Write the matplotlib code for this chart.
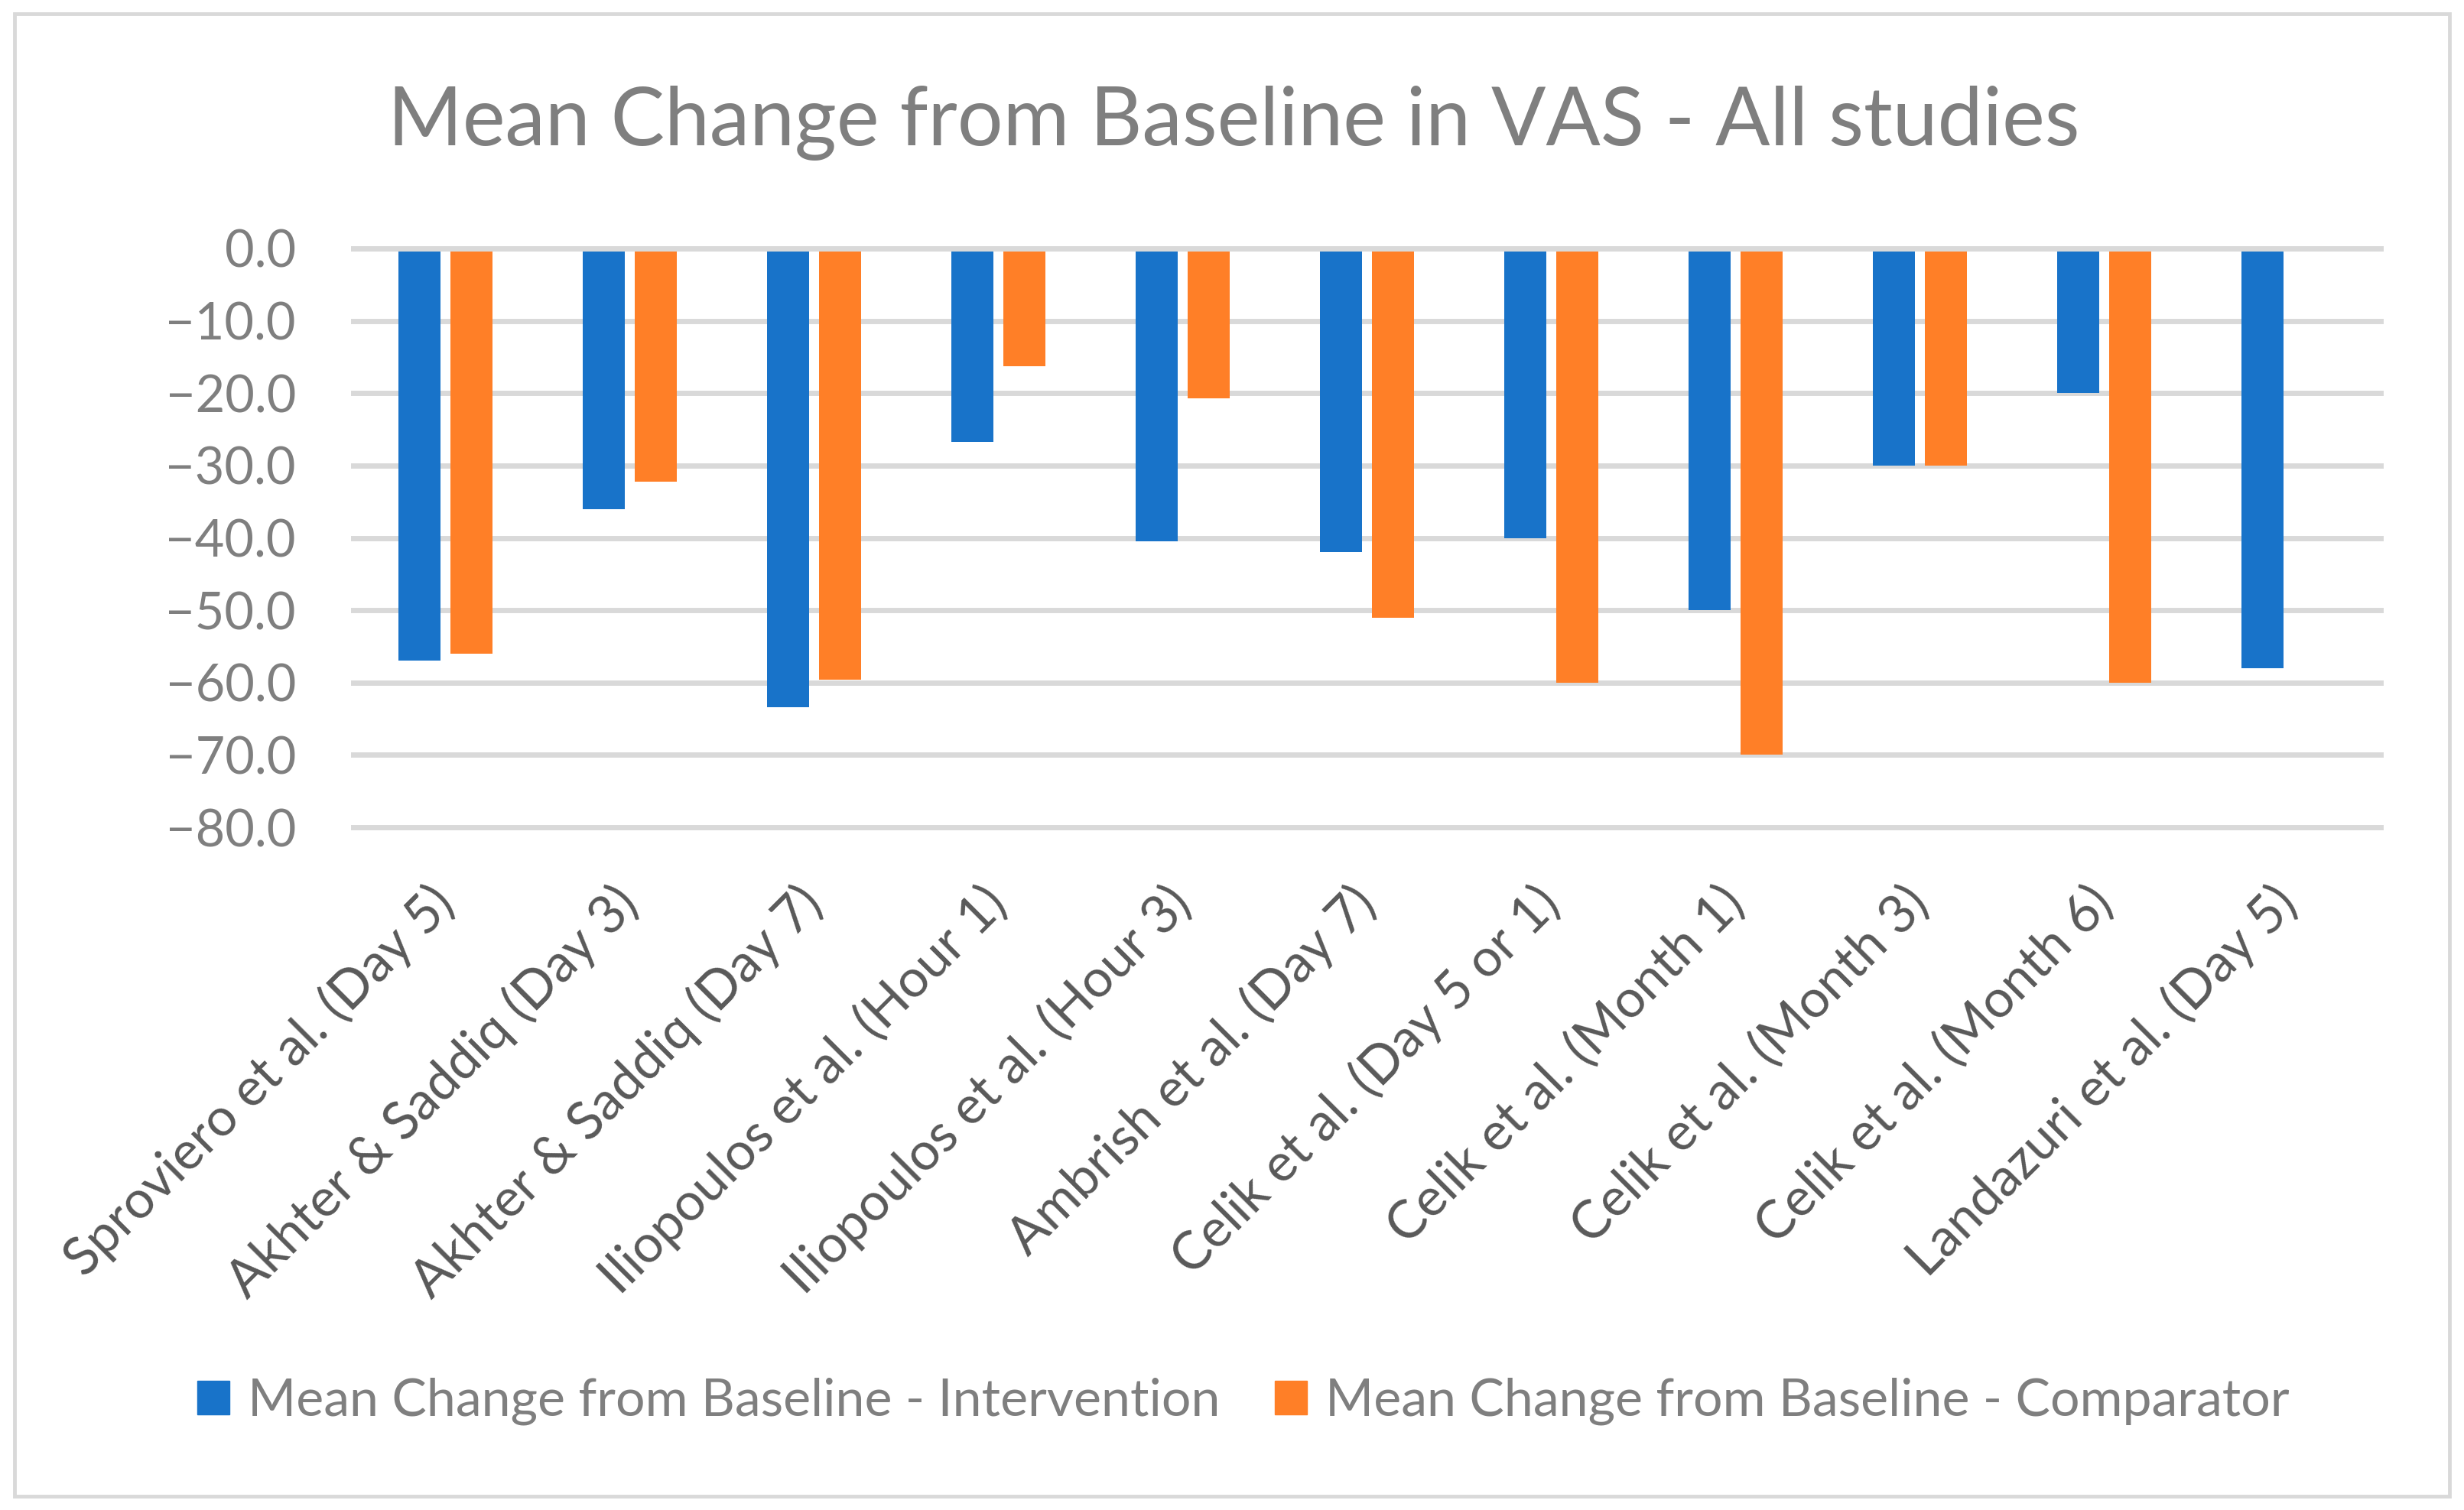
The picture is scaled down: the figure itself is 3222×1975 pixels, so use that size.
import matplotlib
matplotlib.use("Agg")
import matplotlib.pyplot as plt
import numpy as np
from matplotlib.patches import Patch

plt.rcParams['font.family'] = ['Lato', 'DejaVu Sans']

studies = ["Sproviero et al. (Day 5)", "Akhter & Saddiq (Day 3)", "Akhter & Saddiq (Day 7)",
           "Iliopoulos et al. (Hour 1)", "Iliopoulos et al. (Hour 3)", "Ambrish et al. (Day 7)",
           "Celik et al. (Day 5 or 1)", "Celik et al. (Month 1)", "Celik et al. (Month 3)",
           "Celik et al. (Month 6)", "Landazuri et al. (Day 5)"]
intervention = [-57.0, -36.0, -63.4, -26.7, -40.5, -42.0, -40.0, -50.0, -30.0, -20.0, -58.0]
comparator = [-56.0, -32.2, -59.6, -16.3, -20.7, -51.0, -60.0, -70.0, -30.0, -60.0, np.nan]
yticks = [0, -10, -20, -30, -40, -50, -60, -70, -80]

blue = '#1873C9'
orange = '#FF7F27'
grey = '#7f7f7f'
dark = '#595959'
gridc = '#d9d9d9'

W, H = 3222, 1975
fig = plt.figure(figsize=(W / 100, H / 100), dpi=100)

# chart border
fig.add_artist(plt.Rectangle((19 / W, 18 / H), (W - 38) / W, (H - 36) / H, transform=fig.transFigure,
                             fill=False, edgecolor=gridc, linewidth=3.5))

ax = fig.add_axes([462 / W, 893 / H, 2651 / W, 757 / H])
x = np.arange(len(studies))
bw = 0.228
ax.bar(x - 0.141, intervention, bw, color=blue, zorder=2)
ax.bar(x + 0.141, comparator, bw, color=orange, zorder=2)
ax.axhline(0, color=gridc, lw=5, zorder=3, clip_on=False)

ax.set_xlim(-0.5, len(studies) - 0.5)
ax.set_ylim(-80, 0)
ax.set_yticks(yticks)
ax.set_yticklabels([f"{v:.1f}".replace('-', '\u2212') for v in yticks])
ax.grid(axis='y', color=gridc, lw=5, zorder=0)
for gl in ax.get_ygridlines():
    gl.set_clip_on(False)
ax.set_axisbelow(True)
ax.set_xticks(x)
ax.set_xticklabels(studies, rotation=45, ha='right', va='center', rotation_mode='anchor')
ax.tick_params(axis='both', length=0)
ax.tick_params(axis='y', pad=54, labelsize=48, labelcolor=grey)
ax.tick_params(axis='x', pad=64, labelsize=49.5, labelcolor=dark)
for s in ax.spines.values():
    s.set_visible(False)

fig.text(1613 / W, 1 - 190 / H, "Mean Change from Baseline in VAS - All studies",
         ha='center', va='baseline', fontsize=76, color=grey)

handles = [Patch(color=blue, label="Mean Change from Baseline - Intervention"),
           Patch(color=orange, label="Mean Change from Baseline - Comparator")]
fig.legend(handles=handles, loc='center', bbox_to_anchor=(1626 / W, 142 / H), ncol=2, frameon=False,
           fontsize=49, labelcolor=grey, handlelength=0.62, handleheight=0.62,
           handletextpad=0.35, columnspacing=1.05)

fig.savefig("out.png", dpi=100)
